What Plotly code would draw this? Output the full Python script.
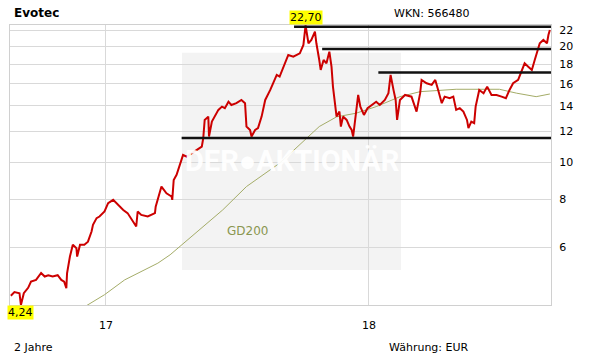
import math
import plotly.graph_objects as go

# ---------------- data ----------------
dates = [
    "2016-08-22", "2016-08-27", "2016-09-03", "2016-09-05", "2016-09-09", "2016-09-15",
    "2016-09-19", "2016-09-26", "2016-10-03", "2016-10-08", "2016-10-13", "2016-10-19",
    "2016-10-26", "2016-10-31", "2016-11-04", "2016-11-07", "2016-11-08", "2016-11-12",
    "2016-11-16", "2016-11-21", "2016-11-22", "2016-11-26", "2016-12-02", "2016-12-07",
    "2016-12-12", "2016-12-14", "2016-12-19", "2016-12-23", "2016-12-30", "2017-01-04",
    "2017-01-11", "2017-01-18", "2017-01-25", "2017-01-31", "2017-02-05", "2017-02-12",
    "2017-02-14", "2017-02-19", "2017-02-28", "2017-03-10", "2017-03-11", "2017-03-13",
    "2017-03-17", "2017-03-19", "2017-03-26", "2017-04-02", "2017-04-03", "2017-04-05",
    "2017-04-09", "2017-04-14", "2017-04-18", "2017-04-23", "2017-04-30", "2017-05-07",
    "2017-05-14", "2017-05-16", "2017-05-18", "2017-05-23", "2017-05-24", "2017-05-28",
    "2017-06-01", "2017-06-06", "2017-06-11", "2017-06-15", "2017-06-20", "2017-06-24",
    "2017-07-01", "2017-07-08", "2017-07-13", "2017-07-15", "2017-07-20", "2017-07-22",
    "2017-07-27", "2017-07-31", "2017-08-05", "2017-08-10", "2017-08-17", "2017-08-21",
    "2017-08-26", "2017-08-30", "2017-09-06", "2017-09-11", "2017-09-18", "2017-09-27",
    "2017-10-02", "2017-10-05", "2017-10-09", "2017-10-13", "2017-10-18", "2017-10-20",
    "2017-10-24", "2017-10-26", "2017-10-30", "2017-11-03", "2017-11-07", "2017-11-10",
    "2017-11-12", "2017-11-15", "2017-11-17", "2017-11-21", "2017-11-23", "2017-11-26",
    "2017-12-01", "2017-12-05", "2017-12-08", "2017-12-10", "2017-12-14", "2017-12-17",
    "2017-12-20", "2017-12-25", "2017-12-30", "2018-01-05", "2018-01-11", "2018-01-16",
    "2018-01-23", "2018-01-28", "2018-01-31", "2018-02-04", "2018-02-07", "2018-02-09",
    "2018-02-13", "2018-02-20", "2018-03-01", "2018-03-08", "2018-03-13", "2018-03-15",
    "2018-03-22", "2018-03-29", "2018-04-03", "2018-04-07", "2018-04-12", "2018-04-16",
    "2018-04-23", "2018-04-28", "2018-05-02", "2018-05-07", "2018-05-12", "2018-05-17",
    "2018-05-19", "2018-05-23", "2018-05-27", "2018-05-29", "2018-06-03", "2018-06-09",
    "2018-06-14", "2018-06-20", "2018-06-27", "2018-07-04", "2018-07-10", "2018-07-15",
    "2018-07-20", "2018-07-27", "2018-08-01", "2018-08-05", "2018-08-10", "2018-08-15",
    "2018-08-19", "2018-08-23", "2018-08-26", "2018-08-31", "2018-09-05", "2018-09-07",
    "2018-09-09",
]
prices = [
    4.48, 4.58, 4.55, 4.24, 4.55, 4.70,
    4.88, 4.93, 5.14, 5.03, 5.07, 5.03,
    5.07, 4.93, 4.88, 4.69, 5.13, 5.67,
    6.09, 5.96, 5.67, 6.09, 6.09, 6.20,
    6.59, 6.86, 7.14, 7.21, 7.43, 7.81,
    7.97, 7.73, 7.50, 7.36, 7.14, 6.79,
    7.43, 7.28, 7.21, 7.36, 7.65, 7.89,
    8.46, 8.63, 8.29, 8.13, 7.97, 8.98,
    9.26, 9.93, 10.43, 10.33, 10.54, 10.75,
    10.97, 11.53, 12.87, 13.13, 11.65, 12.74,
    13.13, 13.67, 13.94, 13.81, 14.36, 14.08,
    14.23, 14.51, 14.23, 12.37, 12.12, 11.65,
    12.12, 12.25, 13.13, 14.51, 15.41, 16.04,
    16.86, 16.69, 18.08, 19.01, 18.82, 19.20,
    20.18, 22.70, 20.39, 20.80, 21.86, 20.39,
    18.44, 17.37, 18.44, 18.08, 19.39, 17.72,
    15.72, 13.94, 13.13, 13.53, 12.37, 13.13,
    12.87, 12.37, 12.12, 11.65, 13.67, 14.95,
    13.94, 13.26, 13.81, 14.08, 14.36, 14.08,
    14.51, 15.11, 16.86, 15.41, 14.51, 12.87,
    14.51, 14.95, 14.80, 13.53, 15.11, 16.36,
    16.04, 15.88, 16.36, 15.41, 14.23, 14.80,
    14.66, 14.80, 13.67, 13.81, 13.53, 12.87,
    12.25, 12.74, 12.62, 13.94, 15.41, 15.11,
    15.72, 14.95, 14.95, 14.80, 14.66, 15.41,
    16.04, 16.36, 17.37, 18.08, 17.72, 17.37,
    18.44, 19.39, 20.39, 20.80, 20.39, 21.43,
    22.08,
]

gd200_dates = [
    "2016-12-01", "2016-12-30", "2017-01-27", "2017-03-14", "2017-03-31", "2017-05-16",
    "2017-06-12", "2017-07-15", "2017-08-30", "2017-09-19", "2017-10-06", "2017-10-24",
    "2017-11-17", "2017-12-14", "2018-01-11", "2018-02-13", "2018-03-13", "2018-05-02",
    "2018-07-01", "2018-07-25", "2018-08-21", "2018-09-09",
]
gd200_values = [
    4.18, 4.51, 4.93, 5.45, 5.73, 6.79,
    7.50, 8.63, 9.93, 10.75, 11.53, 12.37,
    13.11, 13.40, 13.94, 14.80, 15.25, 15.47,
    15.47, 15.11, 14.80, 15.04,
]

level_values = [22.5, 19.7, 17.1, 11.55]
level_starts = ["2017-09-19", "2017-10-28", "2018-01-14", "2017-04-16"]
level_end = "2018-09-10 14:00"

x_range = ["2016-08-20 20:00", "2018-09-10 14:00"]
y_min, y_max = 4.24, 22.75

y_tick_vals = [6, 8, 10, 12, 14, 16, 18, 20, 22]
y_tick_text = ["6", "8", "10", "12", "14", "16", "18", "20", "22"]
x_tick_vals = ["2017-01-01", "2018-01-01"]
x_tick_text = ["17", "18"]

title_text = "Evotec"
wkn_text = "WKN: 566480"
period_text = "2 Jahre"
currency_text = "Währung: EUR"
gd_label = "GD200"
watermark_text = "DER●AKTIONÄR"

# ---------------- figure ----------------
FONT = "DejaVu Sans, Verdana, sans-serif"
fig = go.Figure()

fig.add_trace(go.Scatter(
    x=gd200_dates, y=gd200_values, mode="lines",
    line=dict(color="#a4ac68", width=1), hoverinfo="skip", showlegend=False,
))

fig.add_trace(go.Scatter(
    x=dates, y=prices, mode="lines",
    line=dict(color="#cc0000", width=2), showlegend=False,
))

for lv, ls in zip(level_values, level_starts):
    fig.add_trace(go.Scatter(
        x=[ls, level_end], y=[lv, lv], mode="lines",
        line=dict(color="#111111", width=2.5), hoverinfo="skip", showlegend=False,
    ))

L, R, T, B = 10, 60, 25, 59
W, H = 611, 364
PW, PH = W - L - R, H - T - B


def px(x):
    return (x - L) / PW


def py(y):
    return (H - B - y) / PH


# watermark box
fig.add_shape(type="rect", xref="paper", yref="paper",
              x0=px(182), x1=px(401), y0=py(270), y1=py(52.7),
              fillcolor="#f3f3f3", line=dict(width=0), layer="below")

annotations = [
    dict(text=watermark_text, x=px(292), y=py(161), xanchor="center", yanchor="middle",
         font=dict(family="Liberation Sans Narrow, Arial Narrow, Roboto, sans-serif",
                   size=29, color="rgba(255,255,255,0.95)", weight="bold")),
    dict(text=f"<b>{title_text}</b>", x=px(12), y=py(13), xanchor="left", yanchor="middle",
         font=dict(family=FONT, size=12, color="#000000")),
    dict(text=wkn_text, x=px(392), y=py(14), xanchor="left", yanchor="middle",
         font=dict(family=FONT, size=11, color="#000000")),
    dict(text=period_text, x=px(12), y=py(347), xanchor="left", yanchor="middle",
         font=dict(family=FONT, size=11, color="#000000")),
    dict(text=currency_text, x=px(387), y=py(347), xanchor="left", yanchor="middle",
         font=dict(family=FONT, size=11, color="#000000")),
    dict(text=gd_label, x=px(225), y=py(231), xanchor="left", yanchor="middle",
         font=dict(family=FONT, size=12, color="#8a9650")),
]
for a in annotations:
    a.update(xref="paper", yref="paper", showarrow=False)

# min / max labels tied to data
i_min = prices.index(min(prices))
i_max = prices.index(max(prices))
for i, anchor in ((i_min, "top"), (i_max, "bottom")):
    annotations.append(dict(
        text=f"{prices[i]:.2f}".replace(".", ","), x=dates[i], y=math.log10(prices[i]),
        xref="x", yref="y", showarrow=False, xanchor="center", yanchor=anchor,
        bgcolor="#ffff00", borderpad=0,
        font=dict(family=FONT, size=11, color="#000000"),
    ))

fig.update_layout(
    width=W, height=H, autosize=False,
    margin=dict(l=L, r=R, t=T, b=B, pad=0),
    paper_bgcolor="#ffffff", plot_bgcolor="#ffffff",
    font=dict(family=FONT, size=11, color="#000000"),
    annotations=annotations,
    hovermode=False,
)
fig.update_xaxes(
    type="date", range=x_range, tickmode="array", tickvals=x_tick_vals, ticktext=x_tick_text,
    showgrid=True, gridcolor="#d9d9d9", gridwidth=1,
    showline=True, linecolor="#d0d0d0", linewidth=1, mirror=True,
    ticks="", ticklabelstandoff=10, zeroline=False,
    tickfont=dict(family=FONT, size=11, color="#000000"),
)
fig.update_yaxes(
    type="log", range=[math.log10(y_min), math.log10(y_max)], side="right",
    tickmode="array", tickvals=y_tick_vals, ticktext=y_tick_text,
    showgrid=True, gridcolor="#d9d9d9", gridwidth=1,
    showline=True, linecolor="#d0d0d0", linewidth=1, mirror=True,
    ticks="", ticklabelstandoff=5, zeroline=False,
    tickfont=dict(family=FONT, size=11, color="#000000"),
)

fig.write_html("out.html")
